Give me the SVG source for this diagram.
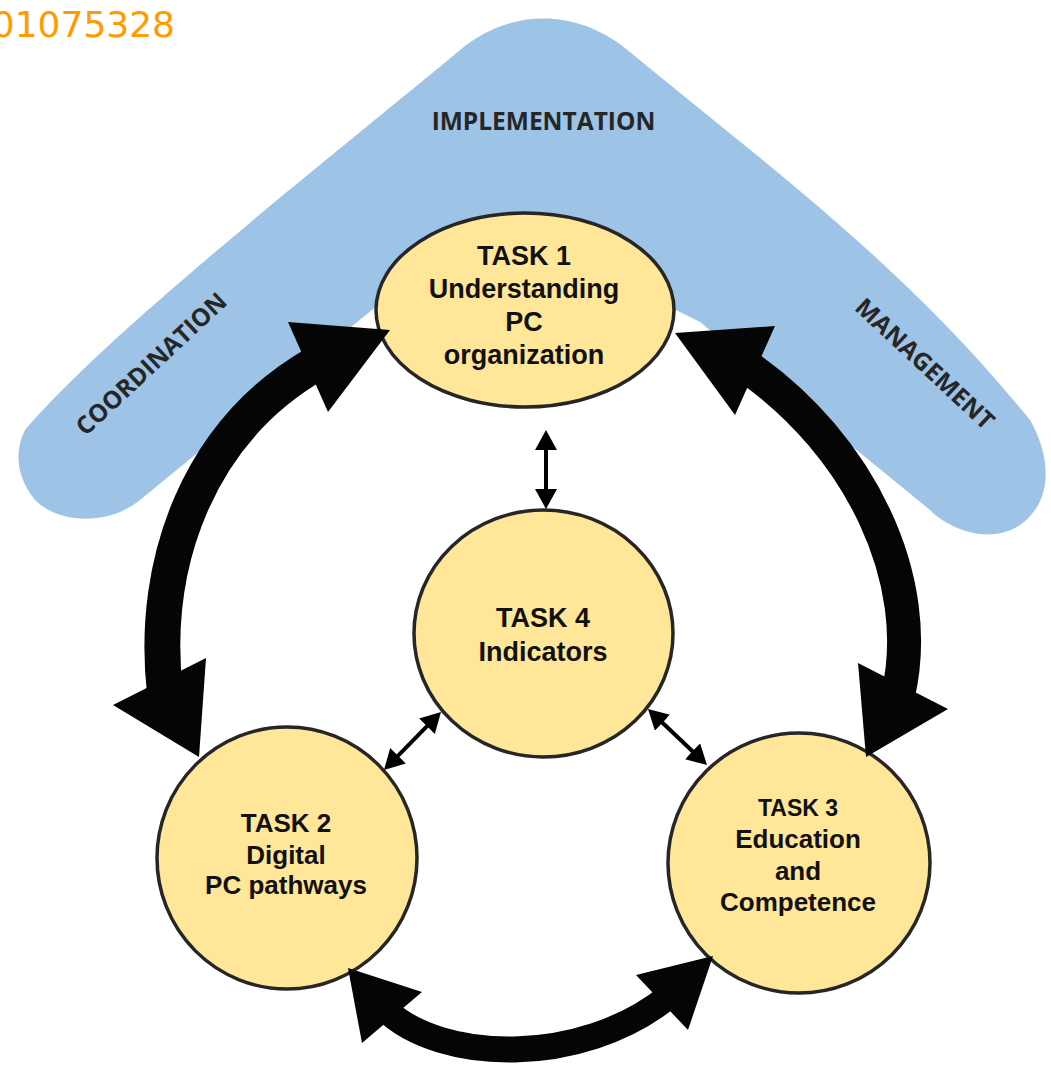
<svg xmlns="http://www.w3.org/2000/svg" width="1051" height="1067" viewBox="0 0 1051 1067">
  <style>
    .band { fill: #9DC3E6; }
    .lbl { font-family: "Open Sans", "DejaVu Sans", sans-serif; font-weight: bold; font-size: 24.5px; fill: #262626; text-anchor: middle; }
    .id { font-family: "DejaVu Sans", Verdana, sans-serif; font-size: 36px; fill: #FF9A00; text-anchor: end; }
    .node { fill: #FFE699; stroke: #262626; stroke-width: 3.5; }
    .t { font-family: "Liberation Sans", Arial, sans-serif; font-weight: bold; fill: #111111; text-anchor: middle; }
    .big { fill: none; stroke: #050505; stroke-linecap: butt; }
    .head { fill: #050505; }
    .small { fill: none; stroke: #000000; stroke-width: 4; marker-start: url(#sh); marker-end: url(#sh); }
  </style>
  <defs>
    <marker id="sh" markerUnits="userSpaceOnUse" markerWidth="20" markerHeight="22" viewBox="0 0 20 22" refX="12" refY="11" orient="auto-start-reverse">
      <path d="M0,0 L20,11 L0,22 Z" fill="#000000"/>
    </marker>
  </defs>

  <g id="background">
    <text class="id" x="175" y="37">01075328</text>
    <path class="band" d="M460,50 C505,12 570,5 625,48 C760,160 900,260 1030,420 C1050,455 1055,500 1020,525 C990,545 950,530 930,510 L700,322 L525,235 L378,305 L140,500 C110,525 60,525 35,500 C15,475 15,450 25,430 C110,330 340,150 460,50 Z"/>
    <text class="lbl" x="543.5" y="130">IMPLEMENTATION</text>
    <text class="lbl" transform="translate(157,370) rotate(-43)">COORDINATION</text>
    <text class="lbl" transform="translate(919,370) rotate(43)">MANAGEMENT</text>
  </g>

  <g id="task1">
    <ellipse class="node" cx="525" cy="310" rx="149" ry="97"/>
    <text class="t" font-size="27" x="524" y="265">TASK 1</text>
    <text class="t" font-size="27" x="524" y="298">Understanding</text>
    <text class="t" font-size="27" x="524" y="331">PC</text>
    <text class="t" font-size="27" x="524" y="364">organization</text>
  </g>

  <g id="task4">
    <ellipse class="node" cx="543.5" cy="633.5" rx="129.5" ry="123.5"/>
    <text class="t" font-size="27" x="543" y="627">TASK 4</text>
    <text class="t" font-size="27" x="543" y="661">Indicators</text>
  </g>

  <g id="task2">
    <ellipse class="node" cx="287" cy="858" rx="130" ry="131"/>
    <text class="t" font-size="26" x="286" y="832">TASK 2</text>
    <text class="t" font-size="26" x="286" y="864">Digital</text>
    <text class="t" font-size="26" x="286" y="894">PC pathways</text>
  </g>

  <g id="task3">
    <ellipse class="node" cx="799" cy="863" rx="131" ry="130"/>
    <text class="t" font-size="23" x="798" y="816">TASK 3</text>
    <text class="t" font-size="26" x="798" y="848">Education</text>
    <text class="t" font-size="26" x="798" y="880">and</text>
    <text class="t" font-size="26" x="798" y="911">Competence</text>
  </g>

  <g id="connectors">
    <path class="big" stroke-width="36" d="M165,693 C150,560 200,430 317,363"/>
    <polygon class="head" points="113,705 206,658 199,757"/>
    <polygon class="head" points="288,322 390,330 328,412"/>

    <path class="big" stroke-width="34" d="M746,366 C860,445 925,580 898,695"/>
    <polygon class="head" points="775,326 675,333 735,415"/>
    <polygon class="head" points="858,663 948,709 866,757"/>

    <path class="big" stroke-width="26" d="M386,1010 C440,1062 580,1068 669,996"/>
    <polygon class="head" points="422,992 348,968 362,1043"/>
    <polygon class="head" points="636,975 713,956 688,1030"/>

    <path class="small" d="M546,438 L546,501"/>
    <path class="small" d="M435.4,717.7 L389.6,764.3"/>
    <path class="small" d="M653.8,714.5 L701.2,759.5"/>
  </g>
</svg>
